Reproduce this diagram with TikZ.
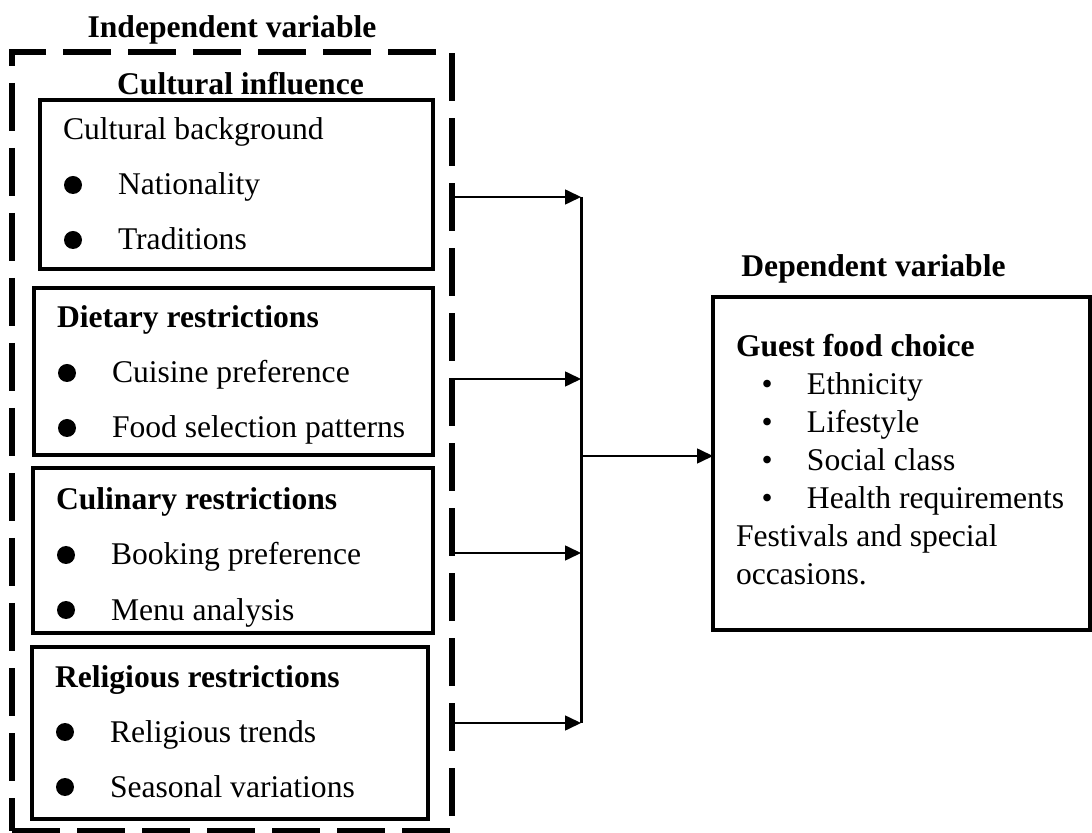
\documentclass[tikz,border=0pt]{standalone}
\usepackage{fontspec}
\setmainfont{Liberation Serif}
\usetikzlibrary{arrows.meta, positioning}

\newcommand{\bigitem}[1]{\makebox[27.5pt][l]{\hspace{0.5pt}\tikz[baseline=0pt]\fill (5pt,5pt) circle (4.5pt);}#1}
\newcommand{\smallitem}[1]{\hspace{12.75pt}\makebox[22.75pt][l]{\textbullet}#1}
\newcommand{\boxbody}[4][20pt]{\parbox[t][#2][t]{#3}{\raggedright\rule{0pt}{#1}#4}}

\begin{document}
\begin{tikzpicture}[x=0.5pt, y=-0.5pt,
      catbox/.style={draw, line width=1.75pt, anchor=north west, inner xsep=11.5pt, inner ysep=0pt, outer sep=0pt, font=\fontsize{15.8pt}{27.5pt}\selectfont},
      groupbox/.style={draw, line width=3pt, dash pattern=on 24pt off 8.5pt, anchor=north west, inner sep=0pt, outer sep=0pt},
      title/.style={font=\fontsize{15.8pt}{19pt}\selectfont\bfseries, inner sep=0pt},
      arrow/.style={-{Triangle[length=8pt, width=7.5pt]}, line width=0.8pt},
      bar/.style={line width=1.5pt}
    ]
    \useasboundingbox (0,0) rectangle (1092,833);

    % Independent side
    \node[groupbox, minimum width=220pt, minimum height=389.5pt] (indep) at (12,52) {};
    \node[title, above=3.5pt of indep] (indeplabel) {Independent variable};

    \node[catbox] (culture) at (40,100) {\boxbody{84.5pt}{173.5pt}{Cultural background\\ \bigitem{Nationality}\\ \bigitem{Traditions}}};
    \node[title, above=2.5pt of culture, xshift=2pt] (culturelabel) {Cultural influence};
    \node[catbox] (diet) at (34,288) {\boxbody{83.5pt}{176.5pt}{\textbf{Dietary restrictions}\\ \bigitem{Cuisine preference}\\ \bigitem{Food selection patterns}}};
    \node[catbox] (culinary) at (33,468) {\boxbody[21pt]{82.5pt}{177pt}{\textbf{Culinary restrictions}\\ \bigitem{Booking preference}\\ \bigitem{Menu analysis}}};
    \node[catbox] (religion) at (32,647) {\boxbody{86pt}{175pt}{\textbf{Religious restrictions}\\ \bigitem{Religious trends}\\ \bigitem{Seasonal variations}}};

    % Dependent side
    \node[title, anchor=base west] (deplabel) at (741,277) {Dependent variable};
    \node[catbox, font=\fontsize{15.8pt}{19pt}\selectfont] (dep) at (713,297) {\boxbody[30pt]{166.5pt}{165.5pt}{\textbf{Guest food choice}\\ \smallitem{Ethnicity}\\ \smallitem{Lifestyle}\\ \smallitem{Social class}\\ \smallitem{Health requirements}\\ Festivals and special\\ occasions.}};

    % Arrows
    \coordinate (j1) at (581,197);
    \coordinate (j2) at (581,379);
    \coordinate (j3) at (581,553);
    \coordinate (j4) at (581,723);
    \coordinate (jout) at (581,456);
    \draw[bar] (j1) -- (j4);
    \foreach \j in {j1,j2,j3,j4}
      \draw[arrow] (indep.east |- \j) -- (\j);
    \draw[arrow] (jout) -- (jout -| dep.west);

    \end{tikzpicture}
\end{document}
